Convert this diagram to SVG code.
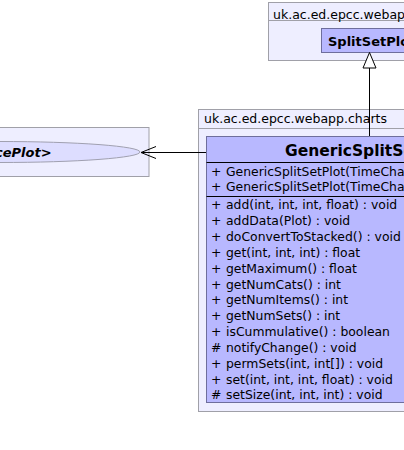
<svg xmlns="http://www.w3.org/2000/svg" width="404" height="450" viewBox="0 0 404 450">
<style>
.pkg{fill:#eeeeff;stroke:#a0a0a8;stroke-width:1}
.cls{fill:#b8b8ff;stroke:#6e6e9c;stroke-width:1}
.t{font-family:"DejaVu Sans",sans-serif;font-size:12.4px;fill:#000}
.pt{font-family:"DejaVu Sans",sans-serif;font-size:12.5px;fill:#000}
.b{font-family:"DejaVu Sans",sans-serif;font-weight:bold;fill:#000}
.ln{stroke:#000;stroke-width:1;fill:none}
</style>
<rect width="404" height="450" fill="#ffffff"/>
<g id="pkg-top">
<rect class="pkg" x="268.5" y="2.5" width="150" height="58"/>
<line class="pkg" x1="268.5" y1="20.5" x2="418" y2="20.5"/>
<text class="pt" x="273" y="18.5">uk.ac.ed.epcc.webapp</text>
</g>
<g id="SplitSetPlot">
<rect class="cls" x="321.5" y="28.5" width="100" height="24"/>
<text class="b" font-size="13" x="328" y="46">SplitSetPlot</text>
</g>
<g id="pkg-left">
<rect class="pkg" x="-10" y="127.5" width="159" height="49"/>
</g>
<g id="TypedPlot">
<ellipse cx="0" cy="152" rx="140" ry="10.5" fill="#ddddff" stroke="#a0a0b0"/>
<text class="b" font-size="13" font-style="italic" x="-5" y="157">cePlot&gt;</text>
</g>
<g id="pkg-charts">
<rect class="pkg" x="198.5" y="109.5" width="220" height="302"/>
<line class="pkg" x1="198.5" y1="128.5" x2="418" y2="128.5"/>
<text class="pt" x="204" y="123">uk.ac.ed.epcc.webapp.charts</text>
</g>
<g id="GenericSplitSetPlot">
<rect class="cls" x="206.5" y="136.5" width="210" height="266"/>
<line class="ln" x1="206.5" y1="162.5" x2="417" y2="162.5"/>
<line class="ln" x1="206.5" y1="196.5" x2="417" y2="196.5"/>
<text class="b" font-size="15.5" x="285" y="156">GenericSplitSetPlot</text>
<g class="t">
<text x="211" y="175.5">+</text><text x="226" y="175.5">GenericSplitSetPlot(TimeChartData)</text>
<text x="211" y="190.5">+</text><text x="226" y="190.5">GenericSplitSetPlot(TimeChartData)</text>
<text x="211" y="209">+</text><text x="226" y="209">add(int, int, int, float) : void</text>
<text x="211" y="225">+</text><text x="226" y="225">addData(Plot) : void</text>
<text x="211" y="241">+</text><text x="226" y="241">doConvertToStacked() : void</text>
<text x="211" y="256.5">+</text><text x="226" y="256.5">get(int, int, int) : float</text>
<text x="211" y="272.5">+</text><text x="226" y="272.5">getMaximum() : float</text>
<text x="211" y="288.5">+</text><text x="226" y="288.5">getNumCats() : int</text>
<text x="211" y="304">+</text><text x="226" y="304">getNumItems() : int</text>
<text x="211" y="320">+</text><text x="226" y="320">getNumSets() : int</text>
<text x="211" y="336">+</text><text x="226" y="336">isCummulative() : boolean</text>
<text x="211" y="352">#</text><text x="226" y="352">notifyChange() : void</text>
<text x="211" y="367.5">+</text><text x="226" y="367.5">permSets(int, int[]) : void</text>
<text x="211" y="383.5">+</text><text x="226" y="383.5">set(int, int, int, float) : void</text>
<text x="211" y="399">#</text><text x="226" y="399">setSize(int, int, int) : void</text>
</g>
</g>
<g id="connectors">
<line class="ln" x1="369.5" y1="68" x2="369.5" y2="136"/>
<polygon points="369.5,52.5 363,68 376,68" fill="#ffffff" stroke="#000"/>
<line class="ln" x1="206" y1="152.5" x2="141" y2="152.5"/>
<polyline class="ln" points="156,146.5 141,152.5 156,158.5"/>
</g>
</svg>
